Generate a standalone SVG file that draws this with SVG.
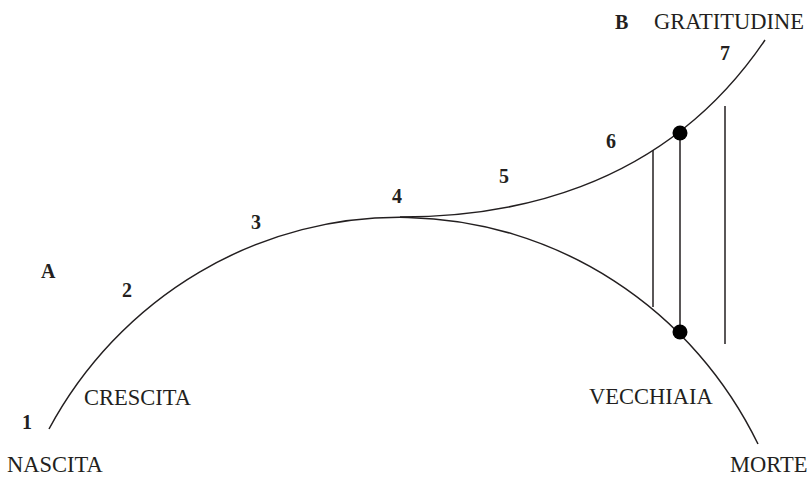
<svg xmlns="http://www.w3.org/2000/svg" width="810" height="477" viewBox="0 0 810 477">
<style>
.ln{fill:none;stroke:#231f20;stroke-width:1.5}
.lbl{font-family:"Liberation Serif","Times New Roman",serif;font-size:22.5px;fill:#231f20}
.num{font-family:"Liberation Serif","Times New Roman",serif;font-size:20px;font-weight:bold;fill:#231f20}
.dot{fill:#000}
</style>
<rect width="810" height="477" fill="#fff"/>
<g id="connectors">
<path class="ln" d="M 49,429 A 400 408 0 0 1 758,444"/>
<path class="ln" d="M 400,217 C 500,217 660,195 765,40"/>
<line class="ln" x1="653" y1="150" x2="653" y2="307"/>
<line class="ln" x1="680" y1="133" x2="680" y2="332"/>
<line class="ln" x1="725" y1="106" x2="725" y2="344"/>
</g>
<g id="dot-top"><circle class="dot" cx="680" cy="133" r="7.5"/></g>
<g id="dot-bottom"><circle class="dot" cx="680" cy="332" r="7.5"/></g>
<g id="labels">
<text class="num" x="22" y="429">1</text>
<text class="num" x="122" y="297">2</text>
<text class="num" x="251" y="229">3</text>
<text class="num" x="392" y="203">4</text>
<text class="num" x="499" y="183">5</text>
<text class="num" x="606" y="148">6</text>
<text class="num" x="720" y="60">7</text>
<text class="num" x="41" y="278">A</text>
<text class="num" x="615" y="29">B</text>
<text class="lbl" x="84" y="405">CRESCITA</text>
<text class="lbl" x="7" y="472">NASCITA</text>
<text class="lbl" x="589" y="404">VECCHIAIA</text>
<text class="lbl" x="730" y="472">MORTE</text>
<text class="lbl" x="654" y="29">GRATITUDINE</text>
</g>
</svg>
